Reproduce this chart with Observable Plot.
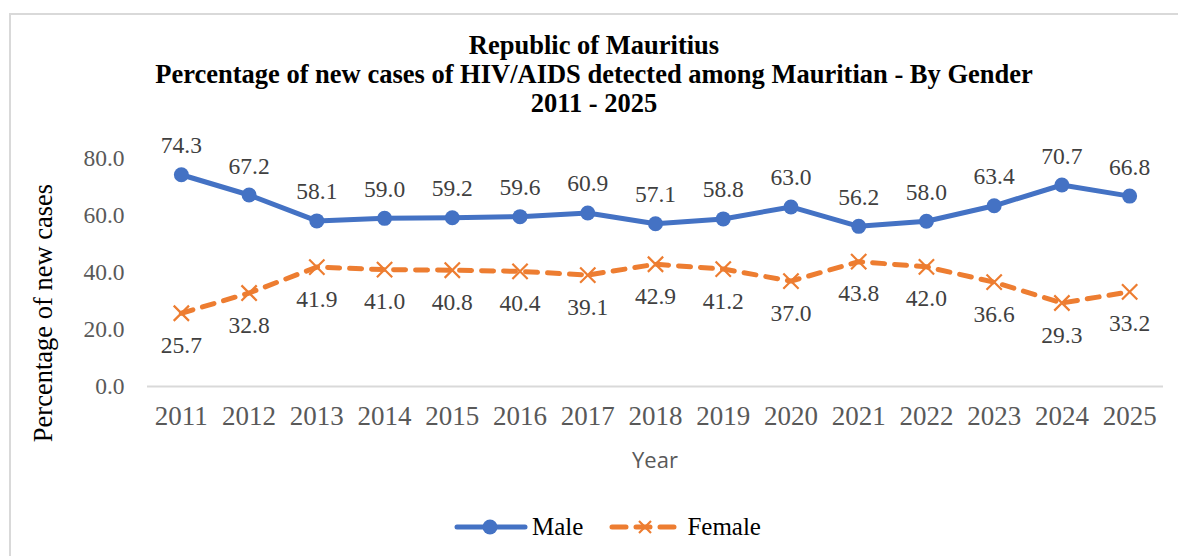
<!DOCTYPE html>
<html>
<head>
<meta charset="utf-8">
<script src="https://cdn.jsdelivr.net/npm/d3@7"></script>
<script src="https://cdn.jsdelivr.net/npm/@observablehq/plot@0.6"></script>
<style>
  html, body { margin: 0; padding: 0; background: #fff; }
  body { width: 1178px; height: 556px; position: relative; overflow: hidden; }
  #frame { position: absolute; left: 9px; top: 13px; width: 1200px; height: 600px; border: 2px solid #d9d9d9; box-sizing: border-box; }
  #title { position: absolute; left: 0; top: 31px; width: 1188px; text-align: center;
           font-family: "Liberation Serif", "Times New Roman", serif; font-weight: bold; font-size: 26.5px; line-height: 29px; color: #000; }
  #chart { position: absolute; left: 0; top: 120px; }
  #ylabel { position: absolute; left: 43px; top: 313px; transform: translate(-50%, -50%) rotate(-90deg);
            white-space: nowrap; font-family: "Liberation Serif", "Times New Roman", serif; font-size: 26.5px; color: #000; }
  #xlabel { position: absolute; left: 655px; top: 459px; transform: translate(-50%, -50%);
            font-family: "Open Sans", sans-serif; font-size: 22px; color: #595959; }
  #legend { position: absolute; left: 452px; top: 512px; display: flex; align-items: center;
            font-family: "Liberation Serif", "Times New Roman", serif; font-size: 25px; color: #000; }
  #legend .item { display: flex; align-items: center; margin-right: 26px; }
</style>
</head>
<body>
<div id="frame"></div>
<div id="title">Republic of Mauritius<br>Percentage of new cases of HIV/AIDS detected among Mauritian - By Gender<br>2011 - 2025</div>
<div id="chart"></div>
<div id="ylabel">Percentage of new cases</div>
<div id="xlabel">Year</div>
<div id="legend"></div>
<script>
// Share of new HIV/AIDS cases among Mauritians, by gender (%)
const years = ["2011","2012","2013","2014","2015","2016","2017","2018","2019","2020","2021","2022","2023","2024","2025"];
const male = [74.3, 67.2, 58.1, 59.0, 59.2, 59.6, 60.9, 57.1, 58.8, 63.0, 56.2, 58.0, 63.4, 70.7, 66.8];
const female = [25.7, 32.8, 41.9, 41.0, 40.8, 40.4, 39.1, 42.9, 41.2, 37.0, 43.8, 42.0, 36.6, 29.3, 33.2];
const yTicks = [0, 20, 40, 60, 80];

const blue = "#4472C4";
const orange = "#ED7D31";
const fmt = d3.format(".1f");

const maleRows = years.map((year, i) => ({year, value: male[i]}));
const femaleRows = years.map((year, i) => ({year, value: female[i]}));

const serif = "'Liberation Serif', 'Times New Roman', serif";

const chart = Plot.plot({
  width: 1178,
  height: 350,
  marginLeft: 147,
  marginRight: 15,
  marginTop: 38,
  marginBottom: 84,
  style: {fontFamily: serif, background: "transparent", overflow: "visible"},
  x: {type: "band", domain: years, padding: 0, round: false},
  y: {domain: [0, 80]},
  marks: [
    Plot.axisY({ticks: yTicks, tickFormat: fmt, tickSize: 0, tickPadding: 23, label: null,
                fontSize: 23.5, fill: "#595959"}),
    Plot.axisX({tickSize: 0, tickPadding: 19, label: null, fontSize: 27, fill: "#595959"}),
    Plot.ruleY([0], {stroke: "#d9d9d9", strokeWidth: 2}),
    Plot.line(femaleRows, {x: "year", y: "value", stroke: orange, strokeWidth: 5,
                           strokeDasharray: "12,10", strokeLinecap: "round"}),
    Plot.dot(femaleRows, {x: "year", y: "value", symbol: "times", r: 7, stroke: orange, strokeWidth: 2.2}),
    Plot.line(maleRows, {x: "year", y: "value", stroke: blue, strokeWidth: 5}),
    Plot.dot(maleRows, {x: "year", y: "value", r: 7.5, fill: blue}),
    Plot.text(maleRows, {x: "year", y: "value", text: d => fmt(d.value), dy: -29,
                         fontSize: 23.5, fill: "#404040"}),
    Plot.text(femaleRows, {x: "year", y: "value", text: d => fmt(d.value), dy: 32,
                           fontSize: 23.5, fill: "#404040"})
  ]
});
document.getElementById("chart").appendChild(chart);

// Legend swatches: solid line with dot, dashed line with cross
const legend = document.getElementById("legend");
function swatch(color, dashed) {
  const ns = "http://www.w3.org/2000/svg";
  const s = document.createElementNS(ns, "svg");
  const w = dashed ? 70 : 76;
  const cx = dashed ? 36 : 38;
  s.setAttribute("width", w); s.setAttribute("height", 30);
  s.style.marginRight = dashed ? "8px" : "4px";
  const l = document.createElementNS(ns, "line");
  l.setAttribute("x1", dashed ? 3 : 5); l.setAttribute("x2", dashed ? 65 : 73);
  l.setAttribute("y1", 15); l.setAttribute("y2", 15);
  l.setAttribute("stroke", color); l.setAttribute("stroke-width", 5); l.setAttribute("stroke-linecap", "round");
  if (dashed) l.setAttribute("stroke-dasharray", "14,10");
  s.appendChild(l);
  if (dashed) {
    const p = document.createElementNS(ns, "path");
    p.setAttribute("d", `M${cx - 6},9L${cx + 6},21M${cx + 6},9L${cx - 6},21`);
    p.setAttribute("stroke", color); p.setAttribute("stroke-width", 2.2);
    s.appendChild(p);
  } else {
    const c = document.createElementNS(ns, "circle");
    c.setAttribute("cx", cx); c.setAttribute("cy", 15); c.setAttribute("r", 7.5); c.setAttribute("fill", color);
    s.appendChild(c);
  }
  return s;
}
[["Male", blue, false], ["Female", orange, true]].forEach(([name, color, dashed]) => {
  const item = document.createElement("div");
  item.className = "item";
  item.appendChild(swatch(color, dashed));
  item.appendChild(document.createTextNode(name));
  legend.appendChild(item);
});
</script>
</body>
</html>
